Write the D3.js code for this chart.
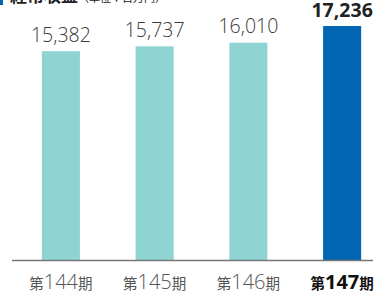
<!DOCTYPE html>
<html>
<head>
<meta charset="utf-8">
<script src="https://d3js.org/d3.v7.min.js"></script>
<style>
  body { margin: 0; background: #fff; }
</style>
</head>
<body>
<div id="chart"></div>
<script>
var periods = ["144", "145", "146", "147"];
var values = [15382, 15737, 16010, 17236];
var barColors = ["#8fd3d3", "#8fd3d3", "#8fd3d3", "#0066b3"];

var width = 377, height = 291;
var fontJP = "'Noto Sans CJK JP', 'Open Sans', sans-serif";
var fontNum = "'Open Sans', 'Noto Sans', sans-serif";

var svg = d3.select("#chart").append("svg")
  .attr("width", width)
  .attr("height", height);

// title, mostly cut off at top edge
svg.append("rect").attr("x", 0).attr("y", 0).attr("width", 3).attr("height", 5).attr("fill", "#0066b3");
var title = svg.append("text").attr("x", 10).attr("y", 1.5)
  .style("font-family", fontJP).style("fill", "#222");
title.append("tspan").style("font-size", "17px").style("font-weight", "bold").text("経常収益");
title.append("tspan").style("font-size", "11px").text("（単位：百万円）");

var x = d3.scaleBand()
  .domain(periods)
  .range([14, 389])
  .paddingInner(0.594)
  .paddingOuter(0.297);

var y = d3.scaleLinear()
  .domain([0, 17236])
  .range([260, 26]);

svg.selectAll("rect.bar")
  .data(values)
  .enter().append("rect")
    .attr("class", "bar")
    .attr("x", function(d, i) { return x(periods[i]); })
    .attr("y", function(d) { return y(d); })
    .attr("width", x.bandwidth())
    .attr("height", function(d) { return y(0) - y(d); })
    .attr("fill", function(d, i) { return barColors[i]; });

// baseline
svg.append("line")
  .attr("x1", 12).attr("x2", 373)
  .attr("y1", 260.5).attr("y2", 260.5)
  .attr("stroke", "#777").attr("stroke-width", 1.5);

// value labels
svg.selectAll("text.val")
  .data(values)
  .enter().append("text")
    .attr("class", "val")
    .attr("x", function(d, i) { return x(periods[i]) + x.bandwidth() / 2; })
    .attr("y", function(d, i) { return y(d) - (i === 3 ? 9 : 9.5); })
    .attr("text-anchor", "middle")
    .style("font-family", fontNum)
    .style("font-size", "19.5px")
    .style("font-weight", function(d, i) { return i === 3 ? "bold" : "300"; })
    .style("fill", function(d, i) { return i === 3 ? "#222" : "#3a3a3a"; })
    .text(function(d) { return d3.format(",")(d); });

// category labels
var cats = svg.selectAll("text.cat")
  .data(periods)
  .enter().append("text")
    .attr("class", "cat")
    .attr("x", function(d) { return x(d) + x.bandwidth() / 2; })
    .attr("y", 289)
    .attr("text-anchor", "middle")
    .style("fill", function(d, i) { return i === 3 ? "#111" : "#555"; })
    .style("font-weight", function(d, i) { return i === 3 ? "bold" : "normal"; });
cats.append("tspan").style("font-family", fontJP).style("font-size", "14.5px").text("第");
cats.append("tspan").style("font-family", fontNum).style("font-size", "20px")
  .style("font-weight", function(d, i) { return i === 3 ? "bold" : "300"; })
  .text(function(d) { return d; });
cats.append("tspan").style("font-family", fontJP).style("font-size", "14.5px").text("期");
</script>
</body>
</html>
